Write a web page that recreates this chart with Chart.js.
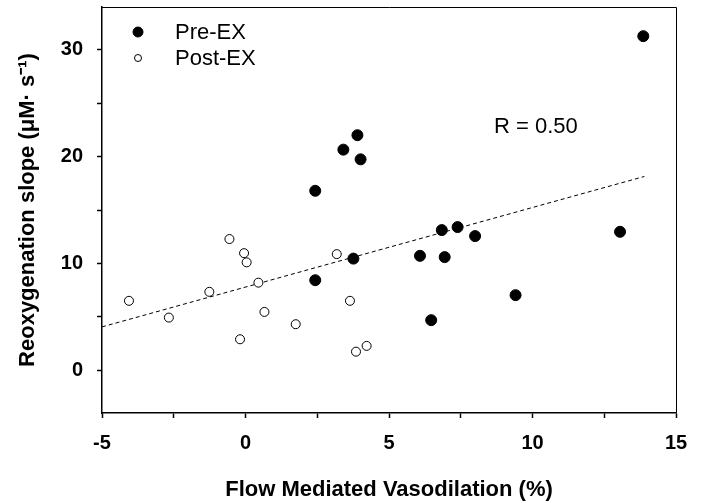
<!DOCTYPE html>
<html>
<head>
<meta charset="utf-8">
<script src="https://cdn.jsdelivr.net/npm/chart.js@4/dist/chart.umd.min.js"></script>
<style>
  body { margin: 0; background: #fff; }
  #wrap { width: 702px; height: 503px; }
</style>
</head>
<body>
<div id="wrap"><canvas id="scatterChart" width="702" height="503"></canvas></div>
<script>
// values
const preX = [2.43, 2.43, 3.41, 3.76, 3.90, 4.01, 6.08, 6.47, 6.84, 6.94, 7.39, 8.0, 9.41, 13.05, 13.86];
const preY = [16.8, 8.43, 20.65, 10.45, 22.0, 19.74, 10.71, 4.69, 13.12, 10.59, 13.4, 12.56, 7.03, 12.96, 31.27];
const postX = [-4.06, -2.67, -1.26, -0.56, -0.19, -0.05, 0.04, 0.45, 0.66, 1.75, 3.18, 3.64, 3.85, 4.22];
const postY = [6.5, 4.93, 7.34, 12.28, 2.9, 10.96, 10.1, 8.2, 5.46, 4.31, 10.87, 6.5, 1.74, 2.28];
const fitX = [-5, 13.9];
const fitY = [4.06, 18.14];
const yTickValues = [0, 5, 10, 15, 20, 25, 30];
const rText = 'R = 0.50';

const FONT = 'Arial, "Liberation Sans", sans-serif';

const toPoints = (xs, ys) => xs.map((x, i) => ({ x: x, y: ys[i] }));

// legend inside the plot + R label + box frame
const extras = {
  id: 'extras',
  afterDraw(chart) {
    const ctx = chart.ctx;
    const { left, top, right, bottom } = chart.chartArea;
    ctx.save();
    // frame top and right
    ctx.strokeStyle = '#000';
    ctx.lineWidth = 1;
    ctx.beginPath();
    ctx.moveTo(left, top + 0.5);
    ctx.lineTo(right + 0.5, top + 0.5);
    ctx.lineTo(right + 0.5, bottom);
    ctx.stroke();

    // legend
    ctx.font = '22px ' + FONT;
    ctx.textBaseline = 'middle';
    ctx.textAlign = 'left';
    const items = chart.data.datasets.filter(d => d.showInLegend);
    items.forEach((d, i) => {
      const cy = top + 25 + i * 26;
      const cx = left + 36;
      ctx.beginPath();
      ctx.arc(cx, cy, i === 0 ? 5 : 3.5, 0, Math.PI * 2);
      ctx.fillStyle = d.backgroundColor;
      ctx.fill();
      ctx.lineWidth = 1;
      ctx.strokeStyle = d.borderColor;
      ctx.stroke();
      ctx.fillStyle = '#000';
      ctx.fillText(d.label, left + 73, cy + 1);
    });

    // correlation label
    const xs = chart.scales.x, ys = chart.scales.y;
    ctx.font = '22px ' + FONT;
    ctx.fillText(rText, xs.getPixelForValue(8.66), ys.getPixelForValue(22.8));
    ctx.restore();
  }
};

new Chart(document.getElementById('scatterChart'), {
  type: 'scatter',
  data: {
    datasets: [
      {
        label: 'Pre-EX',
        data: toPoints(preX, preY),
        backgroundColor: '#000',
        borderColor: '#000',
        pointRadius: 5.5,
        showInLegend: true,
      },
      {
        label: 'Post-EX',
        data: toPoints(postX, postY),
        backgroundColor: '#fff',
        borderColor: '#000',
        borderWidth: 1,
        pointRadius: 4.5,
        showInLegend: true,
      },
      {
        type: 'line',
        label: 'fit',
        data: toPoints(fitX, fitY),
        borderColor: '#000',
        borderWidth: 1,
        borderDash: [4, 3],
        pointRadius: 0,
        fill: false,
      },
    ],
  },
  options: {
    responsive: false,
    animation: false,
    layout: { padding: { left: 2, right: 26, top: 7, bottom: 0 } },
    plugins: {
      legend: { display: false },
      tooltip: { enabled: false },
    },
    scales: {
      x: {
        type: 'linear',
        min: -5,
        max: 15,
        afterFit: (s) => { s.height = 90; s.paddingLeft = 0; s.paddingRight = 0; },
        ticks: {
          stepSize: 2.5,
          autoSkip: false,
          maxRotation: 0,
          padding: 13,
          color: '#000',
          font: { family: FONT, size: 20, weight: 'bold' },
          callback: (v) => (v % 5 === 0 ? v : ''),
        },
        grid: { drawOnChartArea: false, tickLength: 5, color: '#000', tickWidth: 1.5 },
        border: { color: '#000', width: 1.5 },
        title: {
          display: true,
          text: 'Flow Mediated Vasodilation (%)',
          color: '#000',
          font: { family: FONT, size: 22, weight: 'bold' },
          padding: { top: 0, bottom: 0 },
        },
      },
      y: {
        type: 'linear',
        min: -4,
        max: 34,
        afterFit: (s) => { s.width = 100; s.paddingTop = 0; s.paddingBottom = 0; },
        afterBuildTicks: (s) => { s.ticks = yTickValues.map(v => ({ value: v })); },
        ticks: {
          padding: 14,
          color: '#000',
          font: { family: FONT, size: 20, weight: 'bold' },
          callback: (v) => (v % 10 === 0 ? v : ''),
        },
        grid: { drawOnChartArea: false, tickLength: 5, color: '#000', tickWidth: 1.5 },
        border: { color: '#000', width: 1.5 },
        title: {
          display: true,
          text: 'Reoxygenation slope (μM· s⁻¹)',
          color: '#000',
          font: { family: FONT, size: 22, weight: 'bold' },
          padding: { top: 13, bottom: 0 },
        },
      },
    },
  },
  plugins: [extras],
});
</script>
</body>
</html>
